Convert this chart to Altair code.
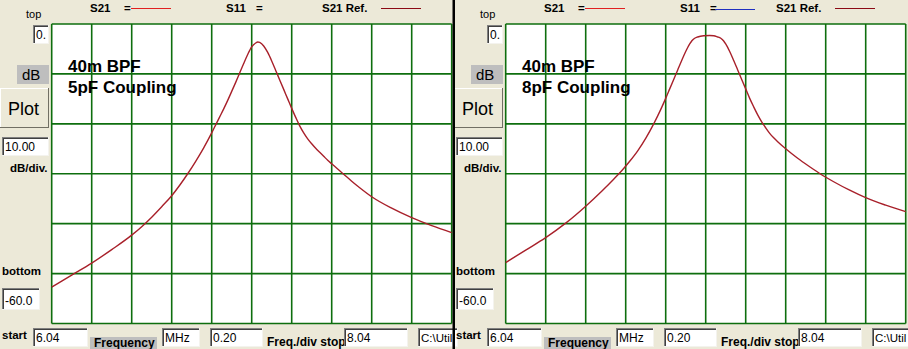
import altair as alt
import pandas as pd

# ---- chart values -------------------------------------------------------
start_mhz = 6.04
stop_mhz = 8.04
top_db = 0
bottom_db = -60

freq_grid = [6.04, 6.24, 6.44, 6.64, 6.84, 7.04, 7.24, 7.44, 7.64, 7.84, 8.04]
db_grid = [0, -10, -20, -30, -40, -50, -60]

# 5 pF coupling (left panel), S21 in dB
freq_5pf = [6.04, 6.14, 6.24, 6.34, 6.44, 6.49, 6.54, 6.59, 6.64, 6.68, 6.72, 6.76,
            6.80, 6.84, 6.86, 6.88, 6.90, 6.92, 6.94, 6.96, 6.98, 7.00, 7.02, 7.04,
            7.06, 7.07, 7.08, 7.10, 7.12, 7.14, 7.16, 7.18, 7.20, 7.22, 7.24, 7.26,
            7.28, 7.30, 7.32, 7.34, 7.36, 7.38, 7.40, 7.42, 7.44, 7.46, 7.48, 7.50,
            7.54, 7.58, 7.64, 7.74, 7.84, 7.94, 8.04]
db_5pf = [-52.7, -50.3, -47.9, -45.2, -42.3, -40.6, -38.7, -36.6, -34.4, -32.3, -30.0, -27.5,
          -24.8, -21.8, -20.2, -18.6, -17.0, -15.3, -13.5, -11.7, -9.8, -7.9, -6.1, -4.6,
          -3.8, -3.6, -3.7, -4.4, -5.7, -7.4, -9.3, -11.2, -13.1, -15.0, -16.9, -18.7,
          -20.4, -21.8, -23.0, -24.0, -24.9, -25.7, -26.5, -27.3, -28.0, -28.7, -29.4, -30.1,
          -31.5, -32.8, -34.6, -36.9, -38.8, -40.4, -41.8]

# 8 pF coupling (right panel), S21 in dB
freq_8pf = [6.04, 6.14, 6.24, 6.34, 6.44, 6.52, 6.58, 6.62, 6.66, 6.70, 6.74, 6.78,
            6.80, 6.82, 6.84, 6.86, 6.88, 6.90, 6.92, 6.94, 6.95, 6.96, 6.97, 6.98,
            7.00, 7.03, 7.06, 7.08, 7.10, 7.11, 7.12, 7.13, 7.14, 7.16, 7.18, 7.20,
            7.22, 7.24, 7.26, 7.28, 7.30, 7.32, 7.34, 7.36, 7.38, 7.40, 7.44, 7.50,
            7.56, 7.612, 7.68, 7.76, 7.84, 7.94, 8.04]
db_8pf = [-47.8, -45.3, -42.8, -39.9, -36.5, -33.5, -31.1, -29.4, -27.5, -25.4, -22.9, -20.0,
          -18.4, -16.7, -14.9, -13.0, -11.1, -9.2, -7.3, -5.5, -4.7, -4.0, -3.4, -3.0,
          -2.6, -2.35, -2.3, -2.35, -2.6, -2.75, -3.0, -3.4, -4.0, -5.5, -7.3, -9.2,
          -11.1, -13.0, -14.9, -16.6, -18.2, -19.6, -20.8, -21.9, -22.8, -23.6, -25.0, -26.9,
          -28.6, -30.0, -31.6, -33.3, -34.8, -36.3, -37.6]

# ---- styles ---------------------------------------------------------------
FONT = "Liberation Sans"
BG = "#ECE9D8"
GRID = "#0E6E0E"
CURVE = "#A8202A"
one = pd.DataFrame({"k": [0]})


def txt(s, x, y, size=12, weight="normal", color="black"):
    return alt.Chart(one).mark_text(
        text=s, fontSize=size, fontWeight=weight, color=color, font=FONT,
        align="left", baseline="alphabetic"
    ).encode(x=alt.value(x), y=alt.value(y))


def rect(x, y, w, h, fill):
    return alt.Chart(one).mark_rect(fill=fill, strokeWidth=0).encode(
        x=alt.value(x), x2=alt.value(x + w), y=alt.value(y), y2=alt.value(y + h))


def hline(x, x2, y, color, width=1.0):
    return alt.Chart(one).mark_rule(color=color, strokeWidth=width).encode(
        x=alt.value(x), x2=alt.value(x2), y=alt.value(y))


def vline(x, y, y2, color, width=1.0):
    return alt.Chart(one).mark_rule(color=color, strokeWidth=width).encode(
        x=alt.value(x), y=alt.value(y), y2=alt.value(y2))


def sunken(x, y, w, h, label, size=12):
    return [
        rect(x, y, w, h, "white"),
        hline(x, x + w, y + 0.5, "#808080"),
        vline(x + 0.5, y, y + h, "#808080"),
        hline(x + 1, x + w - 1, y + 1.5, "#404040"),
        vline(x + 1.5, y + 1, y + h - 1, "#404040"),
        hline(x, x + w, y + h - 0.5, "#F4F3EE"),
        vline(x + w - 0.5, y, y + h, "#F4F3EE"),
        txt(label, x + 3, y + h - 5, size=size),
    ]


def panel(off, freqs, dbs, caption, s11_color):
    xs = alt.Scale(domain=[start_mhz, stop_mhz], range=[51.7 + off, 451.7 + off])
    ys = alt.Scale(domain=[bottom_db, top_db], range=[323.5, 24])
    L = []
    # plot area
    L.append(alt.Chart(pd.DataFrame({"a": [start_mhz], "b": [stop_mhz],
                                     "lo": [bottom_db], "hi": [top_db]}))
             .mark_rect(fill="white").encode(
                 x=alt.X("a:Q", scale=xs, axis=None), x2="b",
                 y=alt.Y("lo:Q", scale=ys, axis=None), y2="hi"))
    L.append(alt.Chart(pd.DataFrame({"f": freq_grid, "lo": bottom_db, "hi": top_db}))
             .mark_rule(color=GRID, strokeWidth=1.6).encode(
                 x=alt.X("f:Q", scale=xs, axis=None),
                 y=alt.Y("lo:Q", scale=ys, axis=None), y2="hi"))
    L.append(alt.Chart(pd.DataFrame({"d": db_grid, "a": start_mhz, "b": stop_mhz}))
             .mark_rule(color=GRID, strokeWidth=1.6).encode(
                 y=alt.Y("d:Q", scale=ys, axis=None),
                 x=alt.X("a:Q", scale=xs, axis=None), x2="b"))
    L.append(alt.Chart(pd.DataFrame({"f": freqs, "db": dbs}))
             .mark_line(color=CURVE, strokeWidth=1.4, interpolate="monotone").encode(
                 x=alt.X("f:Q", scale=xs, axis=None),
                 y=alt.Y("db:Q", scale=ys, axis=None)))
    # captions
    L.append(txt("40m BPF", 68 + off, 72, size=17, weight="bold"))
    L.append(txt(caption, 68 + off, 93, size=17, weight="bold"))
    # legend strip
    L.append(txt("S21", 90 + off, 12, size=11.5, weight="bold"))
    L.append(txt("=", 124 + off, 12, size=11.5, weight="bold"))
    L.append(hline(131 + off, 171 + off, 8.5, "#E02020", 1.2))
    L.append(txt("S11", 226 + off, 12, size=11.5, weight="bold"))
    L.append(txt("=", 256 + off, 12, size=11.5, weight="bold"))
    if s11_color:
        L.append(hline(261 + off, 301 + off, 9.5, s11_color, 1.2))
    L.append(txt("S21 Ref.", 322 + off, 12, size=11.5, weight="bold"))
    L.append(hline(381 + off, 421 + off, 8.5, "#8B0A14", 1.2))
    # left controls
    L.append(txt("top", 26 + off, 18, size=11))
    L += sunken(33 + off, 25, 16, 19, "0.", size=12)
    L.append(rect(17 + off, 65, 32, 19, "#BEBEBE"))
    L.append(txt("dB", 22 + off, 80, size=15))
    L.append(rect(off, 88, 49, 40, BG))
    L.append(hline(off, 49 + off, 88.5, "white"))
    L.append(vline(0.5 + off, 88, 128, "white"))
    L.append(hline(off, 49 + off, 127.5, "#716F64"))
    L.append(vline(48.5 + off, 88, 128, "#716F64"))
    L.append(txt("Plot", 8 + off, 115, size=18))
    L += sunken(2 + off, 137, 47, 19, "10.00", size=12)
    L.append(txt("dB/div.", 10 + off, 172, size=11.5, weight="bold"))
    L.append(txt("bottom", 2 + off, 275, size=11.5, weight="bold"))
    L += sunken(2 + off, 288, 38, 22, "-60.0", size=12)
    # bottom row
    L.append(txt("start", 2 + off, 339, size=11.5, weight="bold"))
    L += sunken(33 + off, 328, 55, 19, "6.04", size=12)
    L.append(rect(90 + off, 337, 67, 12, "#BEBEBE"))
    L.append(txt("Frequency", 94 + off, 347, size=12, weight="bold"))
    L += sunken(162 + off, 328, 38, 19, "MHz", size=12)
    L += sunken(210 + off, 328, 53, 19, "0.20", size=12)
    L.append(txt("Freq./div stop", 267 + off, 346, size=12, weight="bold"))
    L += sunken(344 + off, 328, 64, 19, "8.04", size=12)
    L += sunken(418 + off, 328, 40, 19, "C:\\Util", size=11.5)
    return L


layers = []
layers += panel(0, freq_5pf, db_5pf, "5pF Coupling", None)
layers += panel(454, freq_8pf, db_8pf, "8pF Coupling", "#2030C0")
layers.append(rect(452.5, 0, 2.5, 349, "black"))

chart = alt.layer(*layers).resolve_scale(
    x="independent", y="independent"
).properties(
    width=908, height=349, autosize="none", padding=0, background=BG
).configure_view(strokeWidth=0)

chart.save("out.html", embed_options={"renderer": "svg", "actions": False})
